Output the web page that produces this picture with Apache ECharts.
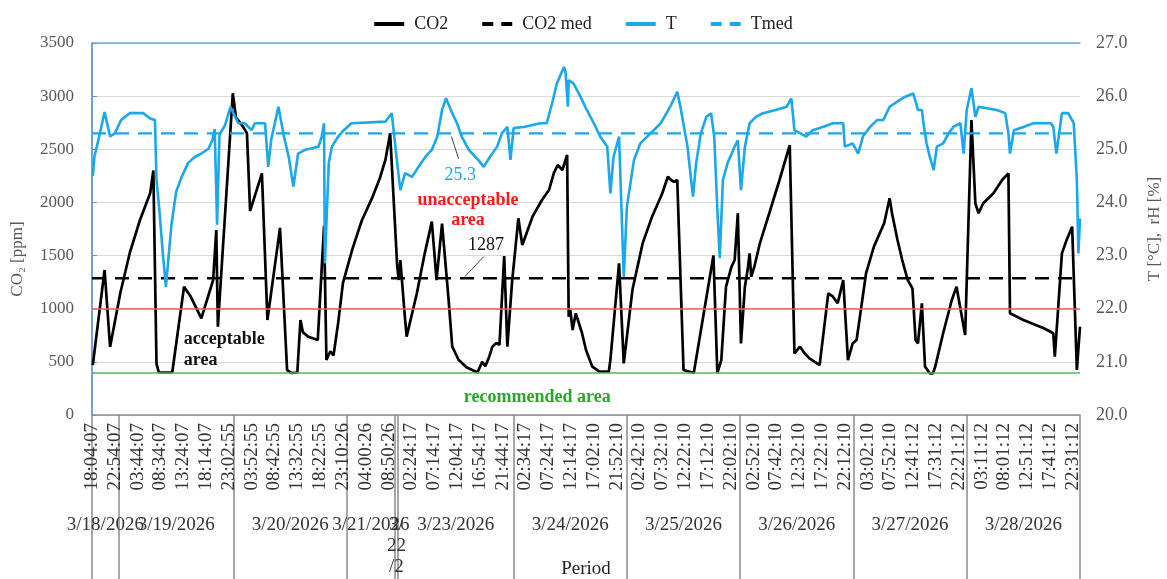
<!DOCTYPE html>
<html><head><meta charset="utf-8">
<script src="https://cdn.jsdelivr.net/npm/echarts@6/dist/echarts.min.js"></script>
<style>html,body{margin:0;padding:0;background:#fff}#c{width:1167px;height:579px}</style>
</head><body><div id="c"></div>
<script>
// ---- tick labels (one every 29 samples of 10 min) ----
const timeLabels = ['18:04:07','22:54:07','03:44:07','08:34:07','13:24:07','18:14:07','23:02:55','03:52:55','08:42:55','13:32:55','18:22:55','23:10:26','04:00:26','08:50:26','02:24:17','07:14:17','12:04:17','16:54:17','21:44:17','02:34:17','07:24:17','12:14:17','17:02:10','21:52:10','02:42:10','07:32:10','12:22:10','17:12:10','22:02:10','02:52:10','07:42:10','12:32:10','17:22:10','22:12:10','03:02:10','07:52:10','12:41:12','17:31:12','22:21:12','03:11:12','08:01:12','12:51:12','17:41:12','22:31:12'];
const samplesPerLabel = 29;
const sampleCount = 1256;
const dayLabels = ['3/18/2026','3/19/2026','3/20/2026','3/21/2026','3/22/2026','3/23/2026','3/24/2026','3/25/2026','3/26/2026','3/27/2026','3/28/2026'];
const dayBounds = [0,34,180,324,385,389,536,680,824,968,1112,1256]; // sample index where each day starts/ends

// ---- series values: [sample index, value] ----
const co2Points = [[1,470],[16,1364],[23,640],[36,1148],[48,1524],[61,1835],[74,2089],[78,2300],[82,480],[85,400],[102,400],[117,1207],[125,1120],[139,910],[154,1270],[158,1740],[160,830],[179,3027],[183,2800],[192,2713],[197,2650],[201,1920],[216,2274],[223,894],[239,1760],[248,423],[254,395],[261,400],[265,894],[268,780],[275,737],[287,706],[295,1780],[298,517],[303,600],[307,560],[313,870],[319,1240],[331,1560],[343,1830],[356,2040],[366,2230],[373,2400],[379,2650],[388,1400],[390,1270],[392,1458],[394,1270],[398,900],[400,737],[413,1145],[423,1521],[432,1819],[438,1270],[445,1800],[453,1113],[458,643],[466,520],[476,450],[490,400],[496,500],[500,460],[505,549],[509,643],[514,677],[518,660],[524,1495],[528,643],[534,1250],[542,1851],[547,1600],[560,1866],[572,2023],[581,2117],[587,2274],[592,2352],[598,2305],[604,2446],[606,925],[608,988],[611,800],[615,957],[619,863],[623,769],[628,612],[636,455],[645,408],[657,408],[659,517],[670,1427],[676,486],[687,1176],[700,1615],[712,1866],[725,2086],[732,2242],[736,2211],[740,2195],[744,2211],[752,423],[765,395],[790,1500],[795,395],[800,517],[806,1207],[813,1395],[817,1458],[821,1898],[825,674],[830,1207],[834,1395],[836,1521],[838,1301],[842,1395],[849,1615],[861,1898],[874,2211],[887,2540],[893,580],[900,643],[906,580],[912,533],[925,470],[936,1145],[942,1113],[948,1051],[955,1270],[961,517],[967,674],[972,706],[978,1019],[984,1333],[994,1584],[1007,1804],[1014,2039],[1017,1898],[1024,1647],[1030,1458],[1037,1270],[1043,1192],[1047,706],[1050,674],[1055,1051],[1059,455],[1065,392],[1069,392],[1072,455],[1082,769],[1093,1082],[1099,1207],[1110,753],[1118,2776],[1123,1992],[1127,1898],[1133,1992],[1146,2086],[1157,2211],[1165,2274],[1167,957],[1184,894],[1210,816],[1222,769],[1224,549],[1233,1521],[1239,1647],[1246,1772],[1252,423],[1256,831]];
const tPoints = [[1,24.5],[3,24.86],[8,25.17],[16,25.7],[23,25.24],[29,25.3],[37,25.55],[48,25.68],[65,25.68],[74,25.58],[80,25.55],[82,24.42],[86,23.8],[90,23.04],[94,22.41],[97,22.92],[101,23.58],[107,24.2],[114,24.48],[122,24.74],[131,24.86],[139,24.92],[148,25.01],[153,25.17],[156,25.38],[159,23.58],[162,25.27],[169,25.45],[176,25.8],[182,25.61],[186,25.49],[194,25.49],[203,25.36],[207,25.49],[220,25.49],[224,24.67],[228,25.2],[237,25.8],[244,25.24],[250,24.86],[256,24.3],[262,24.92],[271,24.99],[280,25.02],[288,25.05],[292,25.24],[295,25.49],[296,22.85],[301,24.74],[305,25.05],[313,25.24],[320,25.36],[330,25.49],[373,25.52],[381,25.68],[388,24.74],[392,24.23],[398,24.55],[407,24.48],[415,24.67],[424,24.86],[432,24.99],[439,25.24],[445,25.74],[450,25.96],[458,25.68],[464,25.49],[470,25.24],[479,24.99],[487,24.86],[491,24.8],[498,24.67],[506,24.86],[515,25.05],[521,25.3],[528,25.42],[532,24.8],[536,25.4],[549,25.42],[570,25.49],[578,25.49],[585,25.87],[591,26.24],[600,26.55],[602,26.45],[605,25.8],[606,26.3],[612,26.24],[621,25.99],[629,25.74],[638,25.49],[646,25.24],[655,25.05],[659,24.17],[663,24.86],[670,25.24],[676,22.6],[680,23.92],[689,24.8],[697,25.11],[710,25.3],[723,25.49],[735,25.8],[744,26.08],[748,25.8],[757,25.05],[764,24.11],[768,24.74],[774,25.3],[781,25.61],[787,25.68],[791,25.24],[795,23.86],[798,22.95],[802,24.42],[808,24.74],[817,25.05],[821,25.17],[825,24.23],[830,25.05],[836,25.49],[844,25.61],[853,25.68],[869,25.74],[883,25.8],[889,25.96],[893,25.36],[908,25.24],[916,25.36],[929,25.42],[942,25.49],[955,25.49],[957,25.05],[967,25.11],[974,24.92],[980,25.24],[989,25.42],[998,25.55],[1006,25.55],[1014,25.8],[1027,25.93],[1034,25.99],[1044,26.05],[1050,25.74],[1055,25.74],[1057,25.49],[1061,25.11],[1065,24.86],[1070,24.61],[1074,25.05],[1082,25.11],[1089,25.3],[1095,25.42],[1104,25.49],[1108,24.92],[1112,25.74],[1118,26.15],[1123,25.61],[1127,25.8],[1150,25.74],[1161,25.68],[1165,25.3],[1167,24.92],[1172,25.36],[1184,25.42],[1197,25.49],[1219,25.49],[1222,25.42],[1226,24.92],[1233,25.68],[1241,25.68],[1248,25.49],[1252,24.42],[1254,23.04],[1256,23.7]];
const co2Median = 1287;
const tMedian = 25.3;
const co2Unacceptable = 1000;
const co2Recommended = 400;

const FONT = '"Liberation Serif", "Times New Roman", serif';
const BLUE = '#1AA7EC';
const dayCenters = dayLabels.map((_, i) => (dayBounds[i] + dayBounds[i + 1]) / 2);
const labelValues = timeLabels.map((_, i) => i * samplesPerLabel);
const SOLID_ICON = 'path://M0,0H30V4H0Z';
const DASH_ICON = 'path://M0,0H11V4H0Z M19,0H30V4H19Z';

function dayText(v) {
  let best = 0;
  dayCenters.forEach((c, i) => { if (Math.abs(c - v) < Math.abs(dayCenters[best] - v)) best = i; });
  const w = dayBounds[best + 1] - dayBounds[best];
  const txt = dayLabels[best];
  return w < 20 ? txt.match(/.{1,2}/g).join('\n') : txt;
}
function dayAxis(values, withTicks) {
  return {
    type: 'value', min: 0, max: sampleCount, position: 'bottom',
    axisLine: {show: false},
    splitLine: {show: false},
    axisTick: withTicks
      ? {show: true, customValues: dayBounds, length: 175, lineStyle: {color: '#8c8c8c', width: 1.5}}
      : {show: false},
    axisLabel: {
      customValues: values, showMinLabel: true, showMaxLabel: true, hideOverlap: false,
      margin: 100, fontFamily: FONT, fontSize: 19, lineHeight: 21, color: '#333',
      formatter: dayText
    }
  };
}

const chart = echarts.init(document.getElementById('c'), null, {renderer: 'canvas'});
chart.setOption({
  animation: false,
  backgroundColor: '#fff',
  textStyle: {fontFamily: FONT},
  legend: {
    top: 10, left: 'center', itemWidth: 40, itemHeight: 4, itemGap: 34,
    data: [
      {name: 'CO2', icon: SOLID_ICON},
      {name: 'CO2 med', icon: DASH_ICON},
      {name: 'T', icon: SOLID_ICON},
      {name: 'Tmed', icon: DASH_ICON}
    ],
    textStyle: {fontFamily: FONT, fontSize: 18, color: '#222'}
  },
  grid: {left: 92, right: 87, top: 43, bottom: 164, containLabel: false, outerBoundsMode: 'none'},
  xAxis: [
    {
      type: 'value', min: 0, max: sampleCount, interval: samplesPerLabel, position: 'bottom',
      name: 'Period', nameLocation: 'middle', nameGap: 145,
      nameTextStyle: {fontFamily: FONT, fontSize: 19, color: '#222'},
      axisLine: {show: true, lineStyle: {color: '#8c8c8c', width: 1.5}},
      axisTick: {show: false},
      splitLine: {show: false},
      axisLabel: {
        customValues: labelValues, showMinLabel: true, showMaxLabel: true, rotate: 90, margin: 8,
        fontFamily: FONT, fontSize: 19, color: '#333',
        formatter: v => timeLabels[Math.round(v / samplesPerLabel)] || ''
      }
    },
    dayAxis(dayCenters.slice(1), true),
    dayAxis(dayCenters.slice(0, 1), false),
    {
      type: 'value', min: 0, max: sampleCount, position: 'top',
      axisLine: {show: true, lineStyle: {color: '#6FA8DC', width: 1.5}},
      axisTick: {show: false}, axisLabel: {show: false}, splitLine: {show: false}
    }
  ],
  yAxis: [
    {
      type: 'value', min: 0, max: 3500, interval: 500, position: 'left',
      name: 'CO₂ [ppm]', nameLocation: 'middle', nameGap: 66, nameRotate: 90,
      nameTextStyle: {fontFamily: FONT, fontSize: 17, color: '#595959', padding: [0, 60, 0, 0]},
      axisLine: {show: true, lineStyle: {color: '#a6a6a6', width: 1.5}},
      axisTick: {show: false},
      splitLine: {show: true, lineStyle: {color: '#d9d9d9', width: 1}},
      axisLabel: {fontFamily: FONT, fontSize: 17, color: '#595959', margin: 18, formatter: v => String(v)}
    },
    {
      type: 'value', min: 20, max: 27, interval: 1, position: 'right',
      name: 'T [°C],  rH [%]', nameLocation: 'middle', nameGap: 66, nameRotate: 90,
      nameTextStyle: {fontFamily: FONT, fontSize: 17, color: '#595959'},
      axisLine: {show: true, lineStyle: {color: '#5B9BD5', width: 1.5}},
      axisTick: {show: true, inside: false, length: 5, lineStyle: {color: '#5B9BD5'}},
      splitLine: {show: false},
      axisLabel: {fontFamily: FONT, fontSize: 18, color: '#595959', margin: 16, formatter: v => v.toFixed(1)}
    }
  ],
  series: [
    {
      name: 'CO2', type: 'line', yAxisIndex: 0, data: co2Points, symbol: 'none', z: 3,
      lineStyle: {color: '#000', width: 2.7}, itemStyle: {color: '#000'},
      markLine: {
        silent: true, symbol: 'none', label: {show: false}, animation: false,
        data: [
          {yAxis: co2Unacceptable, lineStyle: {color: '#ff5a5a', width: 1.5, type: 'solid'}},
          {yAxis: co2Recommended, lineStyle: {color: '#4dbb5f', width: 1.5, type: 'solid'}},
          [{coord: [474, 1302], lineStyle: {color: '#404040', width: 1, type: 'solid'}}, {coord: [498, 1490]}]
        ]
      },
      markPoint: {
        silent: true, symbol: 'circle', symbolSize: 1, itemStyle: {color: 'rgba(0,0,0,0)'},
        label: {show: true, formatter: p => p.name, fontFamily: FONT},
        data: [
          {name: 'unacceptable\narea', coord: [478, 1930], label: {position: 'inside', color: '#ff1a1a', fontWeight: 'bold', fontSize: 18, lineHeight: 20, align: 'center'}},
          {name: String(co2Median), coord: [501, 1600], label: {position: 'inside', color: '#111', fontSize: 18}},
          {name: 'acceptable\narea', coord: [116, 612], label: {position: 'right', distance: 0, color: '#111', fontWeight: 'bold', fontSize: 18, lineHeight: 21}},
          {name: 'recommended area', coord: [566, 170], label: {position: 'inside', color: '#2ca52c', fontWeight: 'bold', fontSize: 18}}
        ]
      }
    },
    {
      name: 'CO2 med', type: 'line', yAxisIndex: 0, symbol: 'none', z: 3,
      data: [[0, co2Median], [sampleCount, co2Median]],
      lineStyle: {color: '#000', width: 2.4, type: [14, 9]}, itemStyle: {color: '#000'}
    },
    {
      name: 'T', type: 'line', yAxisIndex: 1, data: tPoints, symbol: 'none', z: 4,
      lineStyle: {color: BLUE, width: 2.6}, itemStyle: {color: BLUE},
      markLine: {
        silent: true, symbol: 'none', label: {show: false}, animation: false,
        data: [[{coord: [457, 25.24], lineStyle: {color: '#404040', width: 1, type: 'solid'}}, {coord: [466, 24.82]}]]
      },
      markPoint: {
        silent: true, symbol: 'circle', symbolSize: 1, itemStyle: {color: 'rgba(0,0,0,0)'},
        label: {show: true, formatter: p => p.name, fontFamily: FONT},
        data: [{name: tMedian.toFixed(1), coord: [468, 24.52], label: {position: 'inside', color: BLUE, fontSize: 18}}]
      }
    },
    {
      name: 'Tmed', type: 'line', yAxisIndex: 1, symbol: 'none', z: 4,
      data: [[0, tMedian], [sampleCount, tMedian]],
      lineStyle: {color: BLUE, width: 2.4, type: [14, 9]}, itemStyle: {color: BLUE}
    }
  ]
});
</script>
</body></html>
